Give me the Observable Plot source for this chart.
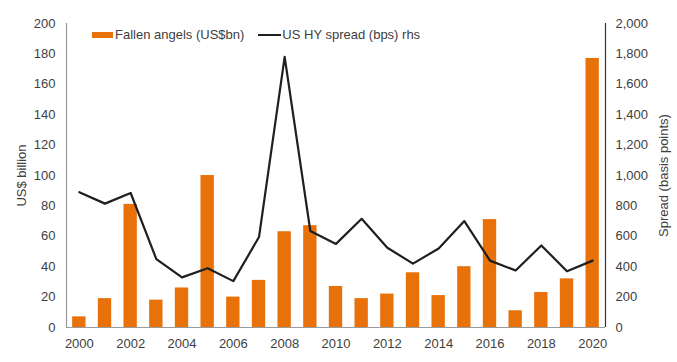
<!DOCTYPE html>
<html>
<head>
<meta charset="utf-8">
<script src="https://cdn.jsdelivr.net/npm/d3@7"></script>
<script src="https://cdn.jsdelivr.net/npm/@observablehq/plot@0.6"></script>
<style>
  html, body { margin: 0; padding: 0; background: #fff; }
  #wrap { position: relative; width: 677px; height: 362px; font-family: "Liberation Sans", Arial, sans-serif; color: #404040; }
  #legend { position: absolute; left: 92px; top: 27px; display: flex; align-items: center; font-size: 13px; white-space: nowrap; }
  .sw-bar { display: inline-block; width: 21px; height: 6px; background: #E8710A; margin-right: 2px; }
  .sw-line { display: inline-block; width: 23px; height: 2px; background: #1f1f1f; margin-left: 14px; margin-right: 1px; }
</style>
</head>
<body>
<div id="wrap">
  <div id="chart"></div>
  <div id="legend">
    <span class="sw-bar"></span><span>Fallen angels (US$bn)</span>
    <span class="sw-line"></span><span>US HY spread (bps) rhs</span>
  </div>
</div>
<script>
const years = [2000, 2001, 2002, 2003, 2004, 2005, 2006, 2007, 2008, 2009, 2010,
               2011, 2012, 2013, 2014, 2015, 2016, 2017, 2018, 2019, 2020];
const fallenAngels = [7, 19, 81, 18, 26, 100, 20, 31, 63, 67, 27,
                      19, 22, 36, 21, 40, 71, 11, 23, 32, 177];
const hySpread = [890, 815, 885, 450, 330, 390, 305, 595, 1780, 635, 550,
                  715, 525, 420, 520, 700, 440, 375, 540, 370, 440];
const xTickLabels = [2000, 2002, 2004, 2006, 2008, 2010, 2012, 2014, 2016, 2018, 2020];
const leftTicks = [0, 20, 40, 60, 80, 100, 120, 140, 160, 180, 200];
const rightTicks = [0, 200, 400, 600, 800, 1000, 1200, 1400, 1600, 1800, 2000];

const leftMax = 200, rightMax = 2000;
const ratio = rightMax / leftMax;

const rows = years.map((year, i) => ({year, fa: fallenAngels[i], spread: hySpread[i]}));
const halfBar = 0.26;
const xDomain = [years[0] - 0.5, years[years.length - 1] + 0.5];

const chart = Plot.plot({
  width: 677,
  height: 362,
  marginLeft: 66,
  marginRight: 72,
  marginTop: 23,
  marginBottom: 35,
  style: {fontFamily: "'Liberation Sans', Arial, sans-serif", fontSize: "13px", color: "#404040", background: "#fff"},
  x: {domain: xDomain},
  y: {domain: [0, leftMax]},
  marks: [
    Plot.rectY(rows, {x1: d => d.year - halfBar, x2: d => d.year + halfBar, y1: 0, y2: "fa", fill: "#E8710A"}),
    Plot.line(rows, {x: "year", y: d => d.spread / ratio, stroke: "#1f1f1f", strokeWidth: 2.2}),
    Plot.ruleY([0], {stroke: "#9a9a9a", strokeWidth: 1.2}),
    Plot.ruleX([xDomain[0]], {stroke: "#9a9a9a", strokeWidth: 1.2}),
    Plot.ruleX([xDomain[1]], {stroke: "#333", strokeWidth: 1.2}),
    Plot.axisX({ticks: xTickLabels, tickFormat: d => String(d), tickSize: 0, tickPadding: 11, label: null, fill: "#404040"}),
    Plot.axisY({ticks: leftTicks, tickSize: 0, tickPadding: 11, label: "US$ billion", labelArrow: "none", labelAnchor: "center", labelOffset: 50, fill: "#404040"}),
    Plot.axisY({anchor: "right", ticks: rightTicks.map(v => v / ratio), tickFormat: d => d3.format(",")(Math.round(d * ratio)), tickSize: 0, tickPadding: 10, label: "Spread (basis points)", labelArrow: "none", labelAnchor: "center", labelOffset: 62, fill: "#404040"})
  ]
});
document.getElementById("chart").appendChild(chart);
</script>
</body>
</html>
